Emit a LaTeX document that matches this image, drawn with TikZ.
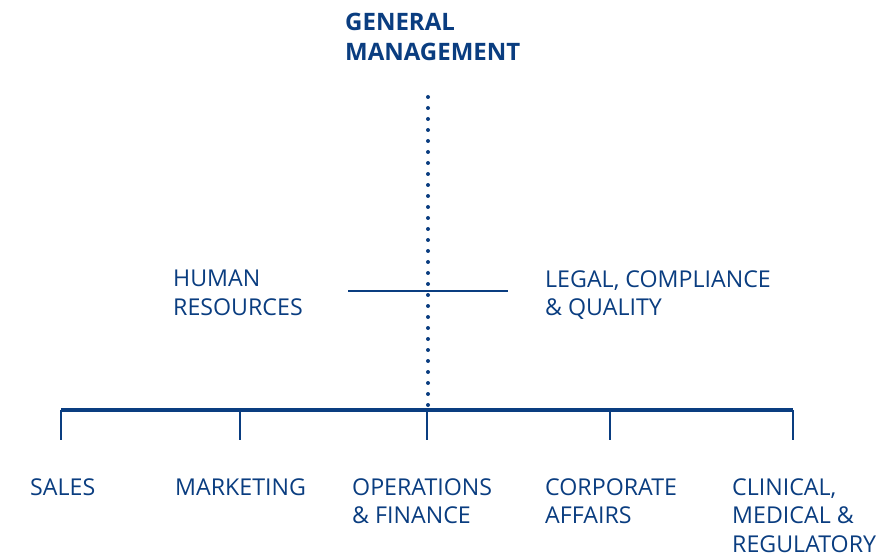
\documentclass[tikz,border=0pt]{standalone}
\usepackage{fontspec}
\setmainfont{Open Sans}
\definecolor{navy}{RGB}{10,61,128}
\begin{document}
\begin{tikzpicture}[x=1pt,y=-1pt,
  lbl/.style={anchor=north west,inner sep=0pt,align=left,text=navy,font=\fontsize{23.2}{28.5}\selectfont},
  ttl/.style={anchor=north west,inner sep=0pt,align=left,text=navy,font=\fontsize{24}{29.5}\selectfont\bfseries},
  bar/.style={draw=navy,line width=4pt},
  tick/.style={draw=navy,line width=2.5pt},
  thin/.style={draw=navy,line width=2pt},
  dots/.style={draw=navy,line width=4pt,line cap=round,dash pattern=on 0pt off 11pt}]
\useasboundingbox (0,0) rectangle (884,556);
\node[ttl] (gm) at (345,13) {GENERAL\\MANAGEMENT};
\coordinate (top) at (428,97);
\coordinate (mid) at (428,410);
\coordinate (hrl) at (348,291);
\coordinate (hrr) at (508,291);
\coordinate (bl) at (61,410);
\coordinate (br) at (793,410);
\foreach \n/\x in {a/61,b/240,c/427,d/610,e/793}{
  \coordinate (t\n) at (\x,410);
  \coordinate (u\n) at (\x,440);
}
\draw[dots] (top) -- (mid);
\draw[thin] (hrl) -- (hrr);
\draw[bar] (bl) -- (br);
\foreach \n in {a,b,c,d,e}{\draw[tick] (t\n) -- (u\n);}
\node[lbl] (hr) at (173,270) {HUMAN\\RESOURCES};
\node[lbl] (legal) at (545,270) {LEGAL, COMPLIANCE\\\& QUALITY};
\node[lbl] (sales) at (30,478) {SALES};
\node[lbl] (mkt) at (175,478) {MARKETING};
\node[lbl] (ops) at (352,478) {OPERATIONS\\\& FINANCE};
\node[lbl] (corp) at (545,478) {CORPORATE\\AFFAIRS};
\node[lbl] (clin) at (732,478) {CLINICAL,\\MEDICAL \&\\REGULATORY};
\end{tikzpicture}
\end{document}
